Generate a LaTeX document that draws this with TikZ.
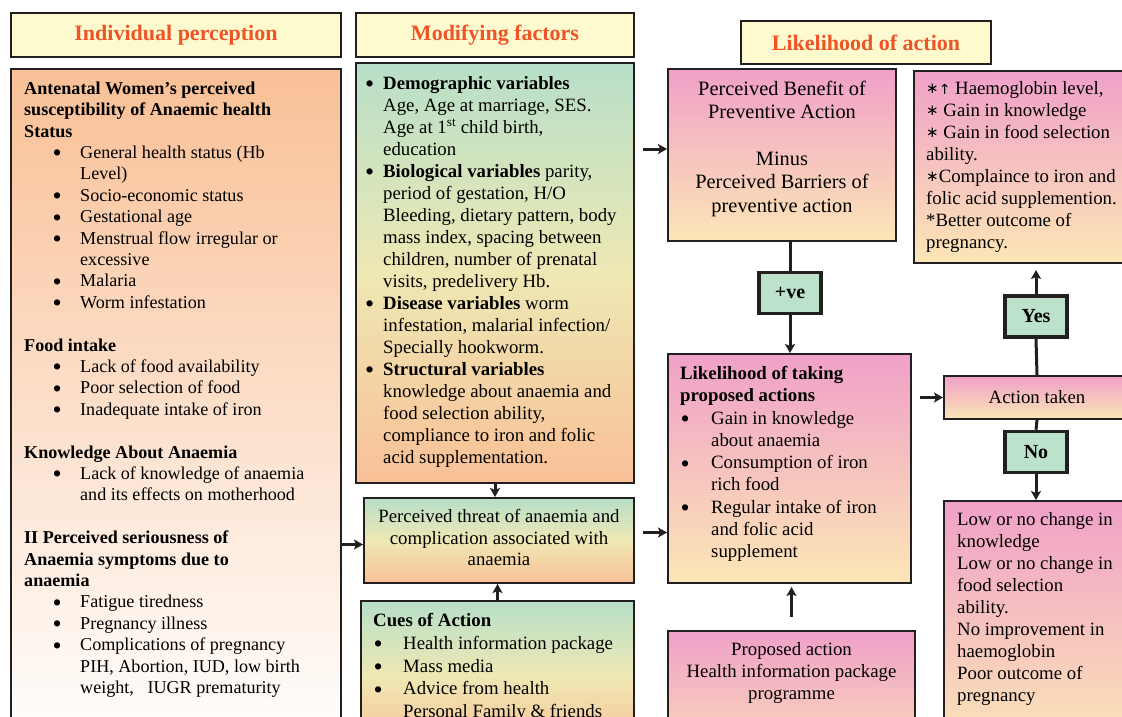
\documentclass[tikz,border=0pt]{standalone}
\usepackage{fontspec}
\setmainfont{Liberation Serif}
\newfontfamily\symfont{DejaVu Sans}
\usetikzlibrary{positioning,arrows.meta,calc}
\definecolor{ink}{RGB}{35,31,32}
\definecolor{headfill}{RGB}{254,250,208}
\definecolor{headtext}{RGB}{238,84,38}
\definecolor{peach}{RGB}{249,192,150}
\definecolor{mint}{RGB}{183,223,200}
\definecolor{straw}{RGB}{238,232,180}
\definecolor{rose}{RGB}{240,160,200}
\definecolor{cream}{RGB}{252,230,182}
\definecolor{tagfill}{RGB}{188,226,204}

\newlength\bulat
\newlength\bulin
\newcommand\bul{\makebox[\bulin][l]{\hspace*{\bulat}\raisebox{-3.5pt}[0pt][0pt]{\fontsize{26}{0}\selectfont\textbullet}}}
\newcommand\ind{\hspace*{\bulin}}
\newcommand\astmark{\raisebox{0.5pt}{\symfont\fontsize{15}{15}\selectfont ∗}}
\newcommand\leftfont{\fontsize{18.1}{21.4}\selectfont\setlength\bulat{28.5pt}\setlength\bulin{56pt}}
\newcommand\modfont{\fontsize{18.8}{22}\selectfont\setlength\bulat{0pt}\setlength\bulin{18pt}}
\newcommand\listfont{\fontsize{18.8}{22.3}\selectfont\setlength\bulat{0.5pt}\setlength\bulin{31pt}}
\newcommand\cuesfont{\fontsize{18.8}{22.8}\selectfont\setlength\bulat{0.5pt}\setlength\bulin{30pt}}
\newcommand\benefont{\fontsize{20.4}{23.3}\selectfont}

\tikzset{
  head/.style={draw=ink, line width=2pt, fill=headfill, anchor=north west, inner sep=0pt},
  headtxt/.style={text=headtext, font=\fontsize{22}{26}\selectfont\bfseries},
  panel/.style={draw=ink, line width=2pt, anchor=north west, inner sep=0pt},
  greenpanel/.style={panel, top color=mint, bottom color=peach, middle color=straw},
  pinkpanel/.style={panel, top color=rose, bottom color=cream},
  tag/.style={draw=ink, line width=3.5pt, fill=tagfill, font=\fontsize{20}{24}\selectfont\bfseries, minimum width=62pt, minimum height=41pt, inner sep=0pt},
  txt/.style={align=left, inner sep=0pt, anchor=north west, font=\fontsize{18.8}{22}\selectfont},
  ctxt/.style={txt, align=center, anchor=north},
  arrow/.style={-{Stealth[length=9pt,width=10pt,inset=2pt]}, line width=3pt, draw=ink},
  link/.style={line width=3pt, draw=ink}
}

\begin{document}
\begin{tikzpicture}[x=1pt, y=-1pt]
  \useasboundingbox (0,0) rectangle (1122,717);
  \clip (0,0) rectangle (1122,717);
  \fill[white] (0,0) rectangle (1122,717);

  % column titles
  \node[head, minimum width=330pt, minimum height=44pt] (tindiv) at (10,12) {};
  \node[headtxt] (tindivtxt) at (tindiv.center) {Individual perception};
  \node[head, minimum width=278pt, minimum height=44pt] (tmodif) at (355,12) {};
  \node[headtxt] (tmodiftxt) at (tmodif.center) {Modifying factors};
  \node[head, minimum width=250pt, minimum height=43pt] (tlikely) at (740,20) {};
  \node[headtxt] (tlikelytxt) at (tlikely.center) {Likelihood of action};

  % panels
  \node[panel, minimum width=330pt, minimum height=680pt, top color=peach, bottom color=white] (indiv) at (10,68) {};
  \node[greenpanel, minimum width=278pt, minimum height=420pt] (modif) at (355,62) {};
  \node[greenpanel, minimum width=270pt, minimum height=85pt] (threat) at (363,497) {};
  \node[greenpanel, minimum width=273pt, minimum height=150pt] (cues) at (360,600) {};
  \node[pinkpanel, minimum width=228pt, minimum height=172pt] (bene) at (667,68) {};
  \node[pinkpanel, minimum width=243pt, minimum height=229pt] (likely) at (667,353) {};
  \node[pinkpanel, minimum width=247pt, minimum height=150pt] (propo) at (667,630) {};
  \node[pinkpanel, minimum width=222pt, minimum height=192pt] (outc) at (913,70) {};
  \node[pinkpanel, minimum width=186pt, minimum height=43pt] (taken) at (943,375) {};
  \node[pinkpanel, minimum width=192pt, minimum height=250pt] (lowc) at (943,500) {};

  \node[tag] (pve) at (790,293) {+ve};
  \node[tag] (yes) at (1036,316.5) {Yes};
  \node[tag] (no) at (1036,452) {No};

  % panel texts
  \node[txt, font=\leftfont] (indivtxt) at ([shift={(14,13.5)}]indiv.north west) {%
    \textbf{Antenatal Women’s perceived}\\
    \textbf{susceptibility of Anaemic health}\\
    \textbf{Status}\\
    \bul General health status (Hb\\
    \ind Level)\\
    \bul Socio-economic status\\
    \bul Gestational age\\
    \bul Menstrual flow irregular or\\
    \ind excessive\\
    \bul Malaria\\
    \bul Worm infestation\\[21.4pt]
    \textbf{Food intake}\\
    \bul Lack of food availability\\
    \bul Poor selection of food\\
    \bul Inadequate intake of iron\\[21.4pt]
    \textbf{Knowledge About Anaemia}\\
    \bul Lack of knowledge of anaemia\\
    \ind and its effects on motherhood\\[21.4pt]
    \textbf{II Perceived seriousness of}\\
    \textbf{Anaemia symptoms due to}\\
    \textbf{anaemia}\\
    \bul Fatigue tiredness\\
    \bul Pregnancy illness\\
    \bul Complications of pregnancy\\
    \ind PIH, Abortion, IUD, low birth\\
    \ind weight,\ \ \ IUGR prematurity};
  \node[txt, font=\modfont] (modiftxt) at ([shift={(10,14)}]modif.north west) {%
    \bul\textbf{Demographic variables}\\
    \ind Age, Age at marriage, SES.\\
    \ind Age at 1\textsuperscript{st} child birth,\\
    \ind education\\
    \bul\textbf{Biological variables} parity,\\
    \ind period of gestation, H/O\\
    \ind Bleeding, dietary pattern, body\\
    \ind mass index, spacing between\\
    \ind children, number of prenatal\\
    \ind visits, predelivery Hb.\\
    \bul\textbf{Disease variables} worm\\
    \ind infestation, malarial infection/\\
    \ind Specially hookworm.\\
    \bul\textbf{Structural variables}\\
    \ind knowledge about anaemia and\\
    \ind food selection ability,\\
    \ind compliance to iron and folic\\
    \ind acid supplementation.};
  \node[align=center, inner sep=0pt, font=\fontsize{18.8}{21.5}\selectfont] (threattxt) at ([shift={(0,-3)}]threat.center) {%
    Perceived threat of anaemia and\\complication associated with\\anaemia};
  \node[txt, font=\cuesfont] (cuestxt) at ([shift={(13,13)}]cues.north west) {%
    \textbf{Cues of Action}\\
    \bul Health information package\\
    \bul Mass media\\
    \bul Advice from health\\
    \ind Personal Family \& friends};
  \node[ctxt, font=\benefont] (benetxt) at ([shift={(0,13)}]bene.north) {%
    Perceived Benefit of\\Preventive Action\\[23.3pt]
    Minus\\Perceived Barriers of\\preventive action};
  \node[txt, font=\listfont] (likelytxt) at ([shift={(13,13)}]likely.north west) {%
    \textbf{Likelihood of taking}\\
    \textbf{proposed actions}\\
    \bul Gain in knowledge\\
    \ind about anaemia\\
    \bul Consumption of iron\\
    \ind rich food\\
    \bul Regular intake of iron\\
    \ind and folic acid\\
    \ind supplement};
  \node[ctxt] (propotxt) at ([shift={(0,12)}]propo.north) {%
    Proposed action\\Health information package\\programme};
  \node[txt] (outctxt) at ([shift={(13,11)}]outc.north west) {%
    \astmark{\symfont\fontsize{14}{14}\selectfont ↑} Haemoglobin level,\\
    \astmark\ Gain in knowledge\\
    \astmark\ Gain in food selection\\
    ability.\\
    \astmark Complaince to iron and\\
    folic acid supplemention.\\
    *Better outcome of\\
    pregnancy.};
  \node[inner sep=0pt, font=\fontsize{18.8}{22}\selectfont] (takentxt) at (taken.center) {Action taken};
  \node[txt] (lowctxt) at ([shift={(14,12)}]lowc.north west) {%
    Low or no change in\\
    knowledge\\
    Low or no change in\\
    food selection\\
    ability.\\
    No improvement in\\
    haemoglobin\\
    Poor outcome of\\
    pregnancy};

  % connectors
  \draw[arrow] (modif.south) -- (modif.south |- threat.north);
  \draw[arrow] (cues.north) -- (cues.north |- threat.south);
  \draw[arrow] ([yshift=-4pt]threat.west -| indiv.east) -- ([yshift=-4pt]threat.west);
  \draw[arrow, shorten <=8pt] ([yshift=8pt]threat.east) -- ([yshift=8pt]threat.east -| likely.west);
  \draw[arrow, shorten <=8pt] ([yshift=6pt]bene.west -| modif.east) -- ([yshift=6pt]bene.west);
  \draw[link] (bene.south -| pve) -- (pve.north);
  \draw[arrow] (pve.south) -- (pve.south |- likely.north);
  \draw[arrow, shorten <=13pt, shorten >=3pt] (propo.north) -- (propo.north |- likely.south);
  \draw[arrow, shorten <=8pt] (taken.west -| likely.east) -- (taken.west);
  \draw[link] (taken.north) -- (yes.south);
  \draw[arrow, shorten >=6pt] (yes.north) -- (yes.north |- outc.south);
  \draw[link] (taken.south) -- (no.north);
  \draw[arrow] (no.south) -- (no.south |- lowc.north);
\end{tikzpicture}
\end{document}
